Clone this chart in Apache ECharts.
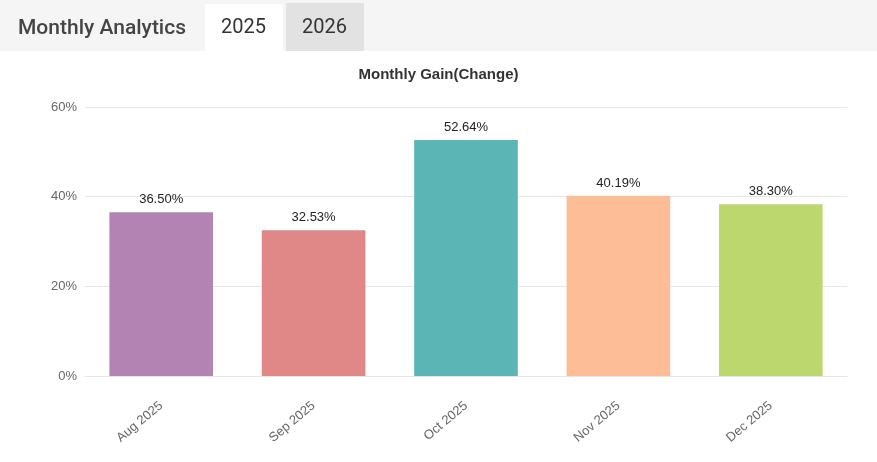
<!DOCTYPE html>
<html>
<head>
<meta charset="utf-8">
<script src="https://cdn.jsdelivr.net/npm/echarts@6/dist/echarts.min.js"></script>
<style>
html,body{margin:0;padding:0;background:#fff;}
#c{width:877px;height:462px;}
</style>
</head>
<body>
<div id="c"></div>
<script>
const categories = ['Aug 2025', 'Sep 2025', 'Oct 2025', 'Nov 2025', 'Dec 2025'];
const gains = [36.50, 32.53, 52.64, 40.19, 38.30];
const barColors = ['#b384b3', '#e08787', '#5ab5b4', '#fdbe97', '#bdd76f'];
const yTicks = [0, 20, 40, 60];
const headerTitle = 'Monthly Analytics';
const tabs = ['2025', '2026'];
const chartTitle = 'Monthly Gain(Change)';

const chart = echarts.init(document.getElementById('c'));
chart.setOption({
  backgroundColor: '#fff',
  animation: false,
  title: {
    text: chartTitle,
    left: 'center',
    top: 62,
    textStyle: {fontFamily: 'Liberation Sans, Arial', fontSize: 15, fontWeight: 'bold', color: '#333'}
  },
  graphic: [
    {type: 'rect', left: 0, top: 0, shape: {width: 877, height: 51}, style: {fill: '#f5f5f5'}, z: 0},
    {type: 'rect', left: 205, top: 4, shape: {width: 78, height: 47}, style: {fill: '#ffffff'}, z: 1},
    {type: 'rect', left: 286, top: 3, shape: {width: 78, height: 48}, style: {fill: '#e2e2e2'}, z: 1},
    {type: 'text', left: 18, top: 18, style: {text: headerTitle, font: '500 21px Roboto', fill: '#444'}, z: 2},
    {type: 'text', left: 221, top: 18, style: {text: tabs[0], font: '400 20px Roboto', fill: '#333'}, z: 2},
    {type: 'text', left: 302, top: 18, style: {text: tabs[1], font: '400 20px Roboto', fill: '#333'}, z: 2}
  ],
  grid: {left: 85, right: 30, top: 107, bottom: 86},
  xAxis: {
    type: 'category',
    data: categories,
    axisLine: {show: true, lineStyle: {color: '#e6e6e6'}},
    axisTick: {show: false},
    axisLabel: {rotate: 40, margin: 28, color: '#666', fontSize: 13, fontFamily: 'Liberation Sans, Arial'}
  },
  yAxis: {
    type: 'value',
    min: yTicks[0],
    max: yTicks[yTicks.length - 1],
    interval: yTicks[1] - yTicks[0],
    axisLine: {show: false},
    axisTick: {show: false},
    splitLine: {lineStyle: {color: '#e6e6e6'}},
    axisLabel: {formatter: '{value}%', margin: 8, color: '#666', fontSize: 13, fontFamily: 'Liberation Sans, Arial'}
  },
  series: [{
    type: 'bar',
    barWidth: '68%',
    data: gains.map((v, i) => ({value: v, itemStyle: {color: barColors[i]}})),
    label: {
      show: true,
      position: 'top',
      distance: 6,
      formatter: p => p.value.toFixed(2) + '%',
      color: '#222',
      fontSize: 13,
      fontFamily: 'Liberation Sans, Arial'
    }
  }]
});
</script>
</body>
</html>
